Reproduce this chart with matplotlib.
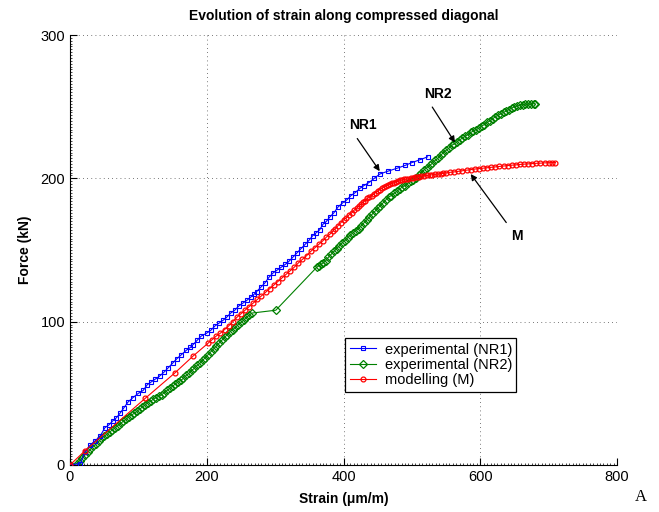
import matplotlib
matplotlib.use("Agg")
import matplotlib.pyplot as plt
import matplotlib.ticker as mtick

plt.rcParams["font.family"] = ["Liberation Sans", "DejaVu Sans"]

# NR1 experimental (blue squares)
nr1_strain = [0, 15, 22, 30, 37, 44, 51, 57, 63, 68, 73, 79, 85, 92, 100, 107, 113, 119,
              125, 131, 138, 144, 150, 156, 163, 170, 176, 180, 186, 192, 200, 206, 212,
              218, 224, 229, 235, 241, 247, 253, 259, 264, 269, 273, 279, 285, 291, 297,
              303, 309, 315, 320, 326, 332, 338, 344, 350, 355, 360, 365, 370, 375, 380,
              386, 392, 399, 405, 411, 417, 424, 430, 437, 445, 453, 465, 478, 490, 500,
              512, 523]
nr1_force = [0, 1, 9, 14, 17, 20, 26, 28, 31, 33, 36, 40, 44, 47, 50, 52, 56, 58,
             60, 62, 65, 68, 71, 74, 77, 80, 82, 84, 87, 90, 92, 94, 97,
             99, 101, 103, 106, 108, 111, 113, 115, 117, 119, 121, 124, 127, 131, 134,
             136, 138, 140, 142, 145, 148, 151, 154, 157, 160, 162, 164, 168, 170, 173,
             176, 180, 183, 185, 188, 190, 193, 195, 197, 200, 203, 205, 207, 209, 211,
             213, 215]

# NR2 experimental (green diamonds)
nr2_strain = [0, 10, 14, 18, 22, 26, 30, 34, 38, 42,
              46, 50, 54, 58, 62, 66, 70, 74, 78, 82,
              86, 90, 94, 98, 102, 106, 110, 114, 118, 122,
              126, 130, 134, 138, 142, 146, 150, 154, 158, 162,
              166, 170, 174, 178, 182, 186, 190, 194, 198, 202,
              206, 210, 214, 218, 222, 226, 230, 234, 238, 242,
              246, 250, 254, 258, 262, 266, 301,
              361, 364, 367, 370, 374, 378, 382, 386, 390, 394,
              398, 402, 406, 410, 414, 418, 422, 426, 430, 434,
              438, 442, 446, 450, 454, 458, 462, 466, 470, 474,
              478, 482, 486, 490, 494, 498, 502, 506, 510, 514,
              518, 522, 526, 530, 534, 538, 542, 546, 550, 554,
              558, 562, 566, 570, 574, 578, 582, 586, 590, 594,
              598, 602, 606, 610, 614, 618, 622, 626, 630, 634,
              638, 642, 646, 650, 654, 658, 662, 666, 670, 674,
              678, 680]
nr2_force = [0, 1, 3, 5, 7, 9, 11, 13, 14.5, 16.5,
             18.5, 20, 21.5, 23, 24.5, 26, 27.5, 29, 30.5, 32,
             33.5, 35, 36, 37.5, 39, 40.5, 42, 43.5, 44.5, 46,
             47, 48, 49, 50.5, 52, 53.5, 55, 56.5, 58, 59,
             60.5, 62.5, 64, 66, 67.5, 69.5, 71, 73, 75, 77,
             79, 81, 83, 85, 87, 89, 91, 93, 94.5, 96,
             98, 99.5, 101, 103, 104.5, 106, 108,
             138, 139, 140, 141, 142.5, 145, 147, 149, 151, 153,
             155, 156.5, 158.5, 160.5, 162, 163.5, 165, 167, 169, 171,
             173, 175, 177, 179, 181, 183, 185, 187, 188, 189.5,
             191, 192.5, 194, 195, 196.5, 198, 199, 200.5, 202, 204,
             206, 207.5, 209, 210.5, 212.5, 214, 216, 218, 219.5, 221,
             223, 224, 225.5, 227, 228, 229.5, 230.5, 232, 233, 234,
             235, 236.5, 237.5, 239, 240, 241.5, 243, 244, 245, 246,
             247, 248, 249, 250, 250.5, 251, 251.5, 252, 252, 252,
             252, 252]

# Modelling M (red circles)
m_strain = [0, 22, 110, 154, 180, 202, 208, 214, 220, 226,
            232, 238, 244, 250, 256, 262, 268, 274, 280, 286,
            292, 298, 304, 310, 316, 322, 328, 334, 340, 346,
            352, 358, 364, 370, 375, 380, 384, 388, 392, 396,
            400, 404, 408, 412, 416, 420, 423, 426, 429, 432,
            435, 438, 441, 444, 447, 450, 453, 456, 459, 462,
            465, 468, 471, 474, 477, 480, 483, 486, 489, 492,
            495, 498, 501, 504, 507, 510, 514, 518, 522, 526,
            530, 534, 538, 542, 546, 550, 556, 562, 568, 574,
            580, 586, 592, 598, 604, 610, 616, 622, 628, 634,
            640, 646, 652, 658, 664, 670, 676, 682, 688, 694,
            700, 705, 710]
m_force = [0, 10, 46.5, 64.5, 76, 85, 87.5, 90, 92, 94.5,
           97, 100, 103, 105.5, 108, 110.5, 113, 115.5, 118, 120.5,
           123, 125.5, 128, 130.5, 133, 135.5, 138, 141, 143.5, 146,
           149, 151.5, 154, 156.5, 159, 161, 163, 165, 167, 169,
           171, 172.5, 174.5, 176, 178, 179.5, 181, 182, 183.5, 184.5,
           186, 187, 188, 189, 190, 191, 192, 193, 193.8, 194.5,
           195.2, 196, 196.5, 197, 197.5, 198, 198.5, 199, 199.3, 199.5,
           199.8, 200, 200.4, 200.7, 201, 201.2, 201.5, 201.8, 202, 202.3,
           202.5, 202.8, 203, 203.2, 203.5, 203.8, 204.2, 204.5, 204.9, 205.3,
           205.7, 206.1, 206.5, 206.8, 207.1, 207.4, 207.7, 208, 208.3, 208.6,
           208.9, 209.2, 209.4, 209.7, 209.9, 210.1, 210.3, 210.5, 210.6, 210.8,
           210.9, 211, 211]

fig = plt.figure(figsize=(6.59, 5.12), dpi=100)
ax = fig.add_axes([0.1062, 0.0918, 0.8301, 0.8398])

ax.plot(nr1_strain, nr1_force, color="#0000ff", lw=0.8, marker="s", ms=3.5,
        mfc="none", mew=0.8, label="experimental (NR1)", zorder=3)
ax.plot(nr2_strain, nr2_force, color="#008000", lw=0.8, marker="D", ms=4.2,
        mfc="none", mew=0.9, label="experimental (NR2)", zorder=2)
ax.plot(m_strain, m_force, color="#ff0000", lw=0.8, marker="o", ms=3.5,
        mfc="none", mew=0.9, label="modelling (M)", zorder=4)

ax.set_xlim(0, 800)
ax.set_ylim(0, 300)
ax.xaxis.set_major_locator(mtick.MultipleLocator(200))
ax.yaxis.set_major_locator(mtick.MultipleLocator(100))
ax.xaxis.set_minor_locator(mtick.MultipleLocator(5))
ax.yaxis.set_minor_locator(mtick.MultipleLocator(2))
ax.tick_params(which="major", direction="in", length=5, width=0.8, labelsize=10.5)
ax.tick_params(which="minor", direction="in", length=1.5, width=0.5)
ax.spines[["top", "right"]].set_visible(False)
ax.grid(True, which="major", color="black", linestyle=(0, (1, 4)), linewidth=0.6, alpha=0.7)

ax.set_title("Evolution of strain along compressed diagonal", fontsize=10,
             fontweight="bold", pad=11)
ax.set_xlabel("Strain (\u03bcm/m)", fontsize=10, fontweight="bold", labelpad=6)
ax.set_ylabel("Force (kN)", fontsize=10, fontweight="bold", labelpad=6)

arrow = dict(arrowstyle="-|>", color="black", lw=0.9, mutation_scale=9)
ax.annotate("NR1", xy=(453, 205), xytext=(428, 237), fontsize=10, fontweight="bold",
            ha="center", va="center",
            arrowprops=dict(arrow, relpos=(0.15, 0.0), shrinkA=3, shrinkB=0))
ax.annotate("NR2", xy=(563, 225), xytext=(538, 259), fontsize=10, fontweight="bold",
            ha="center", va="center",
            arrowprops=dict(arrow, relpos=(0.15, 0.0), shrinkA=3, shrinkB=0))
ax.annotate("M", xy=(586, 203), xytext=(653, 160), fontsize=10, fontweight="bold",
            ha="center", va="center",
            arrowprops=dict(arrow, relpos=(0.0, 1.0), shrinkA=3, shrinkB=0))

leg = ax.legend(loc="upper left", bbox_to_anchor=(0.503, 0.295), fontsize=10.5,
                frameon=True, fancybox=False, edgecolor="black", framealpha=1,
                handlelength=1.8, borderpad=0.3, labelspacing=0.1, handletextpad=0.6,
                borderaxespad=0)
leg.get_frame().set_linewidth(0.9)

fig.text(0.972, 0.03, "A", fontsize=12, family=["Liberation Serif", "DejaVu Serif"],
         ha="center", va="center")

fig.savefig("out.png", dpi=100)
